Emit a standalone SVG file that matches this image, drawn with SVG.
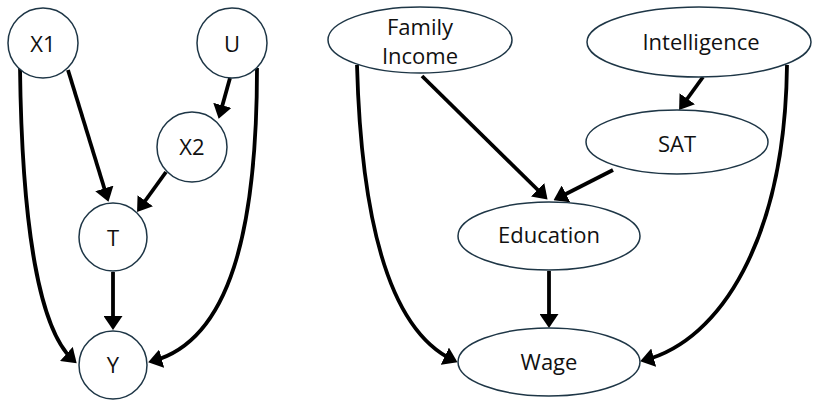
<svg xmlns="http://www.w3.org/2000/svg" width="813" height="401" viewBox="0 0 813 401">
  <style>
    .node { fill: #ffffff; stroke: #1e3646; stroke-width: 1.5; }
    .label { font-family: "Open Sans", "Liberation Sans", sans-serif; font-size: 22px; fill: #111111; text-anchor: middle; }
    .edge { fill: none; stroke: #000000; stroke-width: 3.8; }
  </style>
  <defs>
    <marker id="arrow" markerUnits="userSpaceOnUse" markerWidth="14" markerHeight="19" refX="9" refY="9.5" orient="auto">
      <path d="M0,0 L14,9.5 L0,19 z" fill="#000000"/>
    </marker>
  </defs>

  <rect width="813" height="401" fill="#ffffff"/>

  <!-- connectors -->
  <g id="edges">
    <!-- left graph -->
    <path class="edge" marker-end="url(#arrow)" d="M68,70 L107,197"/>
    <path class="edge" marker-end="url(#arrow)" d="M230,78 L220,114"/>
    <path class="edge" marker-end="url(#arrow)" d="M166,172 L140,208"/>
    <path class="edge" marker-end="url(#arrow)" d="M113,272 L113,325"/>
    <path class="edge" marker-end="url(#arrow)" d="M20,68 C22,230 40,330 73,360"/>
    <path class="edge" marker-end="url(#arrow)" d="M257,68 C257,230 230,340 153,361"/>
    <!-- right graph -->
    <path class="edge" marker-end="url(#arrow)" d="M422,76 L544,196"/>
    <path class="edge" marker-end="url(#arrow)" d="M613,170 L558,198"/>
    <path class="edge" marker-end="url(#arrow)" d="M703,77 L682,106"/>
    <path class="edge" marker-end="url(#arrow)" d="M549,271 L549,323"/>
    <path class="edge" marker-end="url(#arrow)" d="M357,65 C362,250 400,335 453,360"/>
    <path class="edge" marker-end="url(#arrow)" d="M787,65 C785,240 720,340 645,360"/>
  </g>

  <!-- left graph nodes -->
  <g id="node-x1">
    <circle class="node" cx="43" cy="43" r="35"/>
    <text class="label" x="43" y="52">X1</text>
  </g>
  <g id="node-u">
    <circle class="node" cx="232" cy="43" r="35"/>
    <text class="label" x="232" y="52">U</text>
  </g>
  <g id="node-x2">
    <circle class="node" cx="192" cy="147" r="35"/>
    <text class="label" x="192" y="155">X2</text>
  </g>
  <g id="node-t">
    <circle class="node" cx="113" cy="237" r="34"/>
    <text class="label" x="113" y="246">T</text>
  </g>
  <g id="node-y">
    <circle class="node" cx="113" cy="365" r="34"/>
    <text class="label" x="113" y="373">Y</text>
  </g>

  <!-- right graph nodes -->
  <g id="node-family-income">
    <ellipse class="node" cx="420" cy="40" rx="92" ry="33"/>
    <text class="label" x="420" y="35">Family</text>
    <text class="label" x="420" y="64">Income</text>
  </g>
  <g id="node-intelligence">
    <ellipse class="node" cx="699" cy="42" rx="112" ry="35"/>
    <text class="label" x="701" y="50">Intelligence</text>
  </g>
  <g id="node-sat">
    <ellipse class="node" cx="677" cy="142" rx="91" ry="32"/>
    <text class="label" x="677" y="152">SAT</text>
  </g>
  <g id="node-education">
    <ellipse class="node" cx="549" cy="236" rx="91" ry="34"/>
    <text class="label" x="549" y="243">Education</text>
  </g>
  <g id="node-wage">
    <ellipse class="node" cx="549" cy="362" rx="91" ry="34"/>
    <text class="label" x="549" y="370">Wage</text>
  </g>
</svg>
